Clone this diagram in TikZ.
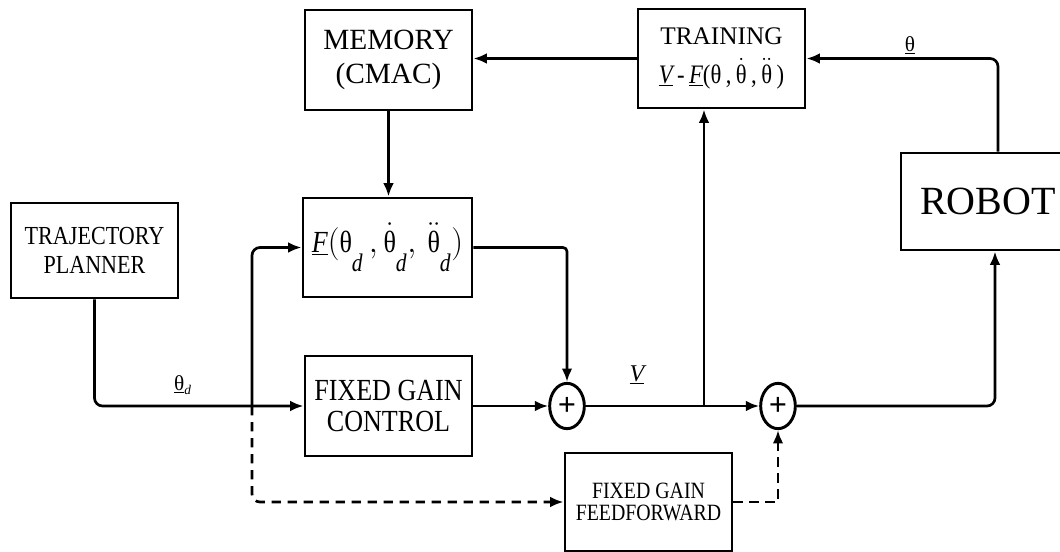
\documentclass[tikz,border=0pt]{standalone}
\usepackage{fontspec}
\setmainfont{Liberation Serif}
\newfontfamily\condfont[FakeStretch=0.85]{Liberation Serif}
\usetikzlibrary{arrows.meta,calc,shapes.geometric}
\newcommand{\thet}{\hbox{θ}}
\newcommand{\sd}{\lower11pt\hbox{\fontsize{19}{19}\selectfont\itshape d}}
\begin{document}
\begin{tikzpicture}[x=0.75pt,y=-0.75pt, line width=2pt,
  box/.style={draw, rectangle, line width=2.2pt, align=center, inner sep=0pt},
  arr/.style={-{Latex[length=10pt,width=8pt]}},
  dsh/.style={dash pattern=on 7pt off 5pt},
  sumnode/.style={draw, ellipse, minimum width=26pt, minimum height=34pt, inner sep=0pt, line width=2.2pt, font=\fontsize{24}{24}\selectfont\bfseries},
  lbl/.style={inner sep=0pt}]
\useasboundingbox (0,0) rectangle (1060,552);
\clip (0,0) rectangle (1060,552);

% boxes
\node[box, minimum width=125.25pt, minimum height=75pt, font=\fontsize{22}{26}\selectfont] (mem) at (388.5,60) {MEMORY\\(CMAC)};
\node[box, minimum width=125.25pt, minimum height=74.25pt, font=\fontsize{19}{22}\selectfont] (train) at (721.5,58.5)
  {TRAINING\\[7pt] {\condfont\fontsize{20}{20}\selectfont\underline{\itshape V}\,-\,\underline{\itshape F}(θ\,,\,$\dot{\thet}$\,,\,$\ddot{\thet}$\,)}};
\node[box, minimum width=125.25pt, minimum height=71.25pt, font=\condfont\fontsize{19.5}{22}\selectfont] (traj) at (94.5,250.5) {TRAJECTORY\\PLANNER};
\node[box, minimum width=126.75pt, minimum height=74.25pt, font=\condfont\fontsize{23}{23}\selectfont] (fbox) at (387.5,247.5)
  {$\underline{\hbox{\itshape F}}(\thet_{\sd}\,,\dot{\thet}_{\sd},\,\ddot{\thet}_{\sd})$};
\node[box, minimum width=125.25pt, minimum height=75pt, font=\condfont\fontsize{23}{23}\selectfont] (fgc) at (388.5,406) {FIXED GAIN\\CONTROL};
\node[box, minimum width=125.25pt, minimum height=73.5pt, font=\condfont\fontsize{17.5}{17}\selectfont] (ff) at (648.5,502) {FIXED GAIN\\FEEDFORWARD};
\node[box, minimum width=130.5pt, minimum height=72.75pt, font=\fontsize{30}{30}\selectfont] (robot) at (988,201.5) {ROBOT};

% summing junctions
\node[sumnode] (s1) at (567,406) {+};
\node[sumnode] (s2) at (778,406) {+};

% helper coordinates
\coordinate (j) at (252,406);
\coordinate (b) at (704,406);

% connectors
\draw[arr] (train.west) -- (mem.east |- train.west);
\draw[arr] (mem.south) -- (mem.south |- fbox.north);
\draw[arr, rounded corners=6pt] (traj.south) |- (fgc.west);
\draw[arr, rounded corners=6pt] (j) |- (fbox.west);
\draw[arr, rounded corners=3pt] (fbox.east) -| (s1.north);
\draw[arr] (fgc.east) -- (s1.west);
\draw[arr] (s1.east) -- (s2.west);
\draw[arr] (b) -- (b |- train.south);
\draw[arr, rounded corners=6pt] (s2.east) -| ($(robot.south)+(7,0)$);
\draw[arr, rounded corners=6pt] ($(robot.north)+(10,0)$) |- (train.east);
\draw[arr, dsh, rounded corners=6pt] (j) |- (ff.west);
\draw[arr, dsh] (ff.east) -| (s2.south);

% labels
\node[lbl, font=\fontsize{16}{16}\selectfont] (ltd) at (183,385) {$\underline{\thet}_{\hbox{\fontsize{10}{10}\selectfont\itshape d}}$};
\node[lbl, font=\fontsize{16}{16}\selectfont] (lt) at (910,45) {$\underline{\thet}$};
\node[lbl, font=\fontsize{18}{18}\selectfont] (lv) at (637,375) {$\underline{\hbox{\itshape V}}$};
\end{tikzpicture}
\end{document}
